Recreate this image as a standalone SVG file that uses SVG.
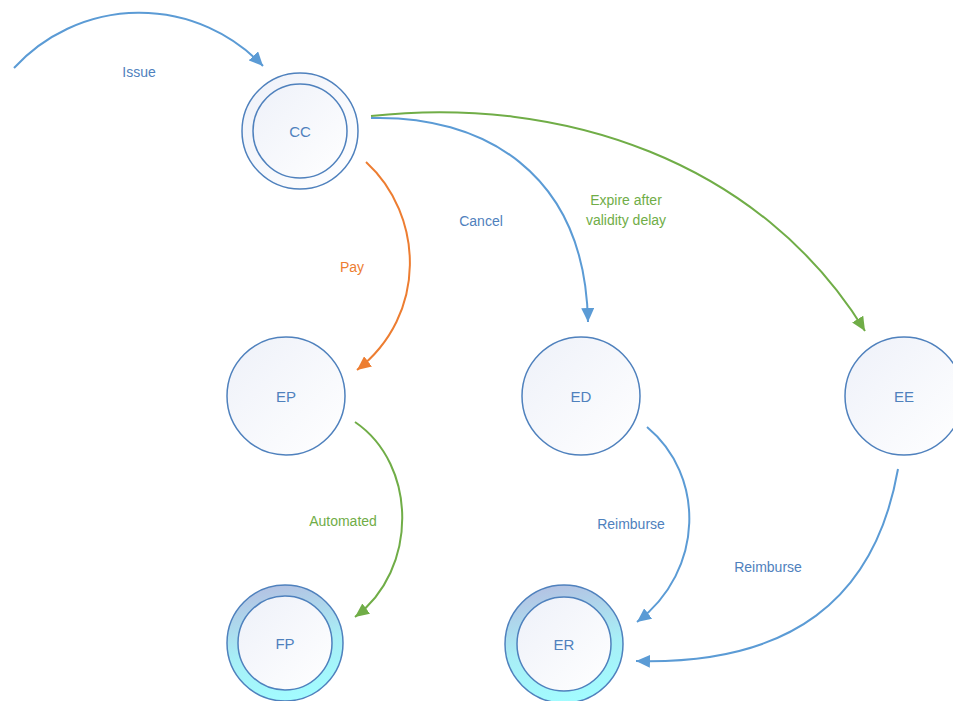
<svg xmlns="http://www.w3.org/2000/svg" width="953" height="701" viewBox="0 0 953 701">
<style>
.node{stroke:#4f81bd;stroke-width:1.5;fill:url(#nf)}
.ring{stroke:#4f81bd;stroke-width:1.5;fill:url(#rf)}
.lbl{font-family:"Liberation Sans",Arial,sans-serif;font-size:14px;text-anchor:middle}
.nt{font-family:"Liberation Sans",Arial,sans-serif;font-size:15px;fill:#4f81bd;text-anchor:middle;dominant-baseline:central}
.c{fill:none;stroke-width:2}
.b{stroke:#5b9bd5}
.o{stroke:#ed7d31}
.g{stroke:#70ad47}
</style>
<defs>
<linearGradient id="nf" x1="0" y1="0" x2="1" y2="1">
<stop offset="0" stop-color="#eef1f9"/>
<stop offset="1" stop-color="#ffffff"/>
</linearGradient>
<linearGradient id="rf" x1="0.3" y1="0" x2="0.5" y2="1">
<stop offset="0" stop-color="#b4c0e2"/>
<stop offset="0.55" stop-color="#a8eef6"/>
<stop offset="1" stop-color="#a2fcff"/>
</linearGradient>
<marker id="ab" markerUnits="userSpaceOnUse" markerWidth="15" markerHeight="13" refX="14" refY="6.5" orient="auto"><path d="M0,0 L14,6.5 L0,13 Z" fill="#5b9bd5"/></marker>
<marker id="ao" markerUnits="userSpaceOnUse" markerWidth="15" markerHeight="13" refX="14" refY="6.5" orient="auto"><path d="M0,0 L14,6.5 L0,13 Z" fill="#ed7d31"/></marker>
<marker id="ag" markerUnits="userSpaceOnUse" markerWidth="15" markerHeight="13" refX="14" refY="6.5" orient="auto"><path d="M0,0 L14,6.5 L0,13 Z" fill="#70ad47"/></marker>
</defs>
<g id="connectors">
<path class="c b" d="M14,68 A170,170 0 0 1 263,66" marker-end="url(#ab)"/>
<path class="c o" d="M366,162 C424,215 428,315 357,370" marker-end="url(#ao)"/>
<path class="c b" d="M371,118 C480,115 585,170 588,322" marker-end="url(#ab)"/>
<path class="c g" d="M371,116 C560,95 760,160 865,331" marker-end="url(#ag)"/>
<path class="c g" d="M355,422 C418,465 418,570 355,617" marker-end="url(#ag)"/>
<path class="c b" d="M647,427 C705,475 705,570 637,622" marker-end="url(#ab)"/>
<path class="c b" d="M898,469 C875,600 790,665 636,661" marker-end="url(#ab)"/>
<text class="lbl" x="139" y="77" fill="#4f81bd">Issue</text>
<text class="lbl" x="352" y="272" fill="#ed7d31">Pay</text>
<text class="lbl" x="481" y="226" fill="#4f81bd">Cancel</text>
<text class="lbl" x="626" y="205" fill="#70ad47">Expire after</text>
<text class="lbl" x="626" y="225" fill="#70ad47">validity delay</text>
<text class="lbl" x="343" y="526" fill="#70ad47">Automated</text>
<text class="lbl" x="631" y="529" fill="#4f81bd">Reimburse</text>
<text class="lbl" x="768" y="572" fill="#4f81bd">Reimburse</text>
</g>
<g id="CC">
<circle class="node" cx="300" cy="131" r="58"/>
<circle class="node" cx="300" cy="131" r="47"/>
<text class="nt" x="300" y="131">CC</text>
</g>
<g id="EP">
<circle class="node" cx="286" cy="396" r="59"/>
<text class="nt" x="286" y="396">EP</text>
</g>
<g id="ED">
<circle class="node" cx="581" cy="396" r="59"/>
<text class="nt" x="581" y="396">ED</text>
</g>
<g id="EE">
<circle class="node" cx="904" cy="396" r="59"/>
<text class="nt" x="904" y="396">EE</text>
</g>
<g id="FP">
<circle class="ring" cx="285" cy="643" r="58"/>
<circle class="node" cx="285" cy="643" r="47"/>
<text class="nt" x="285" y="643">FP</text>
</g>
<g id="ER">
<circle class="ring" cx="564" cy="644" r="59"/>
<circle class="node" cx="564" cy="644" r="47"/>
<text class="nt" x="564" y="644">ER</text>
</g>
</svg>
